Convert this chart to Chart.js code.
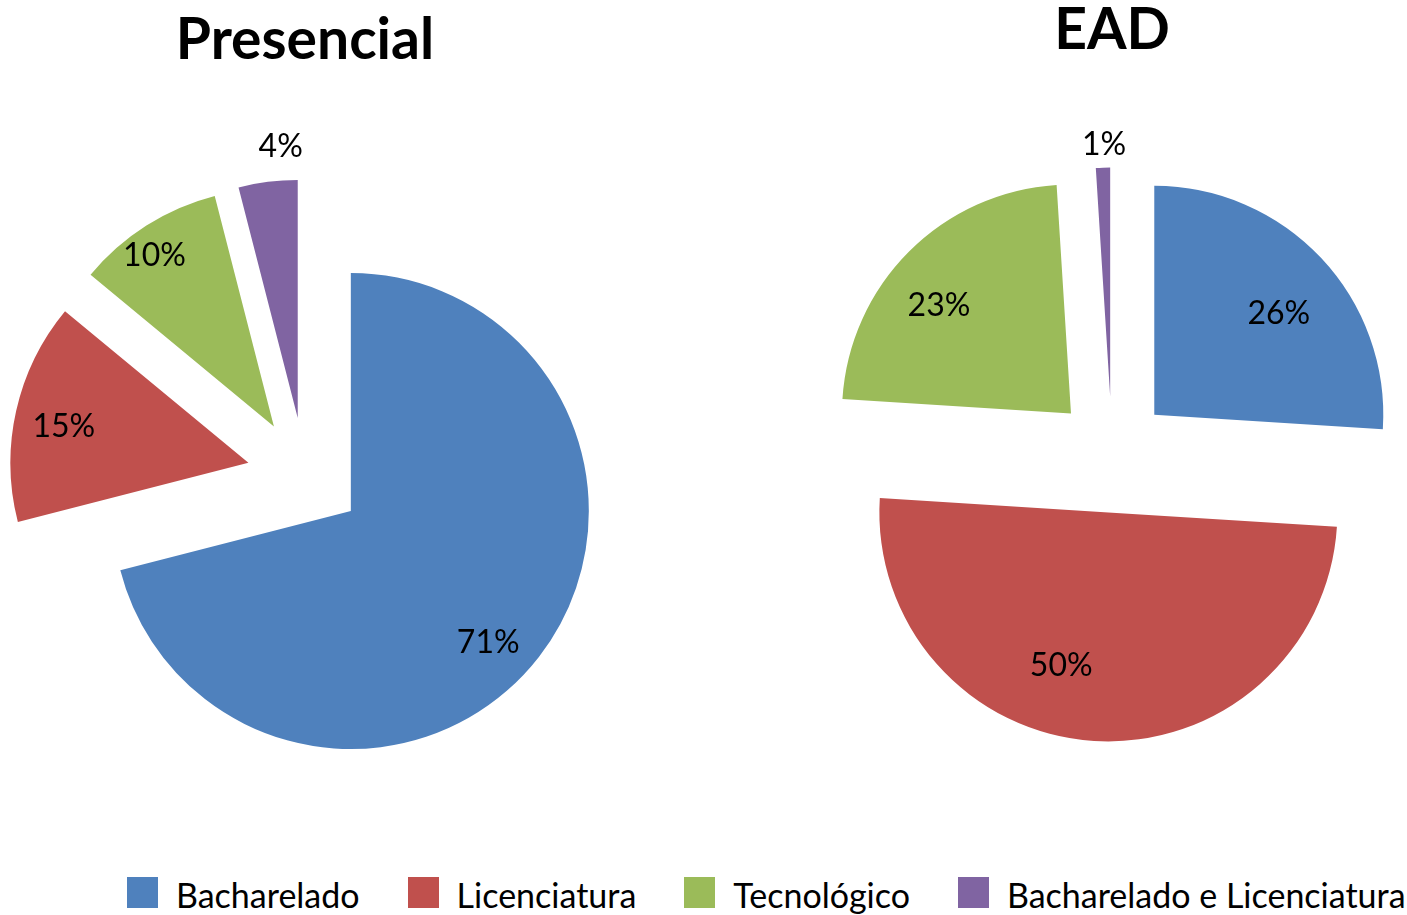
<!DOCTYPE html>
<html>
<head>
<meta charset="utf-8">
<script src="https://cdn.jsdelivr.net/npm/chart.js@4/dist/chart.umd.min.js"></script>
<style>
  html, body { margin: 0; padding: 0; background: #fff; overflow: hidden; }
  body { width: 1407px; height: 915px; position: relative; font-family: 'Lato', sans-serif; }
  canvas { position: absolute; }
  #presencial { left: 8px; top: 0; }
  #ead { left: 822px; top: 0; }
  #legend {
    position: absolute; left: 127px; top: 877px;
    display: flex; align-items: baseline; white-space: nowrap;
    font-size: 34px; line-height: 1; color: #000;
  }
  .item { display: flex; align-items: baseline; margin-right: 48px; }
  .box { display: inline-block; width: 31px; height: 31px; margin-right: 18px; }
</style>
</head>
<body>
<canvas id="presencial" width="594" height="872"></canvas>
<canvas id="ead" width="580" height="840"></canvas>
<div id="legend"></div>

<script>
// data (percent of each type)
const categories = ['Bacharelado', 'Licenciatura', 'Tecnológico', 'Bacharelado e Licenciatura'];
const presencialValues = [71, 15, 10, 4];
const eadValues = [26, 50, 23, 1];

const colors = ['#4F81BD', '#C0504D', '#9BBB59', '#8064A2'];

// where each percent label sits: fraction of radius + small angle nudge (deg)
const presencialLabelRadius = [0.80, 0.79, 0.875, 1.14];
const presencialLabelNudge = [6, -1.6, -2.6, 3.6];
const eadLabelRadius = [0.70, 0.70, 0.745, 1.10];
const eadLabelNudge = [4.2, 13.5, -5.7, 0.4];

Chart.defaults.font.family = 'Lato';

// draws every slice pulled out from the centre (Excel style exploded pie)
const explodePlugin = {
  id: 'explode',
  beforeDatasetDraw(chart, args, opts) {
    const ctx = chart.ctx;
    args.meta.data.forEach((arc) => {
      const mid = (arc.startAngle + arc.endAngle) / 2;
      ctx.save();
      ctx.translate(Math.cos(mid) * opts.distance, Math.sin(mid) * opts.distance);
      arc.draw(ctx);
      ctx.restore();
    });
    return false;
  }
};

// percent labels inside / next to the slices
const pctLabels = {
  id: 'pctLabels',
  afterDatasetsDraw(chart, args, opts) {
    const ctx = chart.ctx;
    const meta = chart.getDatasetMeta(0);
    const values = chart.data.datasets[0].data;
    const total = values.reduce((t, v) => t + v, 0);
    const dist = chart.options.plugins.explode.distance;
    ctx.save();
    ctx.font = '32px Lato';
    ctx.fillStyle = '#000';
    ctx.textAlign = 'center';
    ctx.textBaseline = 'middle';
    meta.data.forEach((arc, i) => {
      const mid = (arc.startAngle + arc.endAngle) / 2;
      const cx = arc.x + Math.cos(mid) * dist;
      const cy = arc.y + Math.sin(mid) * dist;
      const a = mid + opts.nudge[i] * Math.PI / 180;
      const r = arc.outerRadius * opts.radius[i];
      const text = Math.round(values[i] / total * 100) + '%';
      ctx.fillText(text, cx + Math.cos(a) * r, cy + Math.sin(a) * r);
    });
    ctx.restore();
  }
};

function makePie(id, title, values, radius, titlePad, labelRadius, labelNudge) {
  return new Chart(document.getElementById(id), {
    type: 'pie',
    data: {
      labels: categories,
      datasets: [{
        data: values,
        backgroundColor: colors,
        borderWidth: 0
      }]
    },
    options: {
      responsive: false,
      animation: false,
      radius: radius,
      layout: { padding: 0 },
      plugins: {
        legend: { display: false },
        tooltip: { enabled: false },
        title: {
          display: true,
          text: title,
          color: '#000',
          font: { size: 57, weight: 'bold', lineHeight: 1 },
          padding: titlePad
        },
        explode: { distance: 58 },
        pctLabels: { radius: labelRadius, nudge: labelNudge }
      }
    },
    plugins: [explodePlugin, pctLabels]
  });
}

makePie('presencial', 'Presencial', presencialValues, 238, { top: 12, bottom: 10 },
  presencialLabelRadius, presencialLabelNudge);
makePie('ead', 'EAD', eadValues, 229, { top: 2, bottom: 10 },
  eadLabelRadius, eadLabelNudge);

// shared legend at the bottom
const legend = document.getElementById('legend');
categories.forEach((name, i) => {
  const item = document.createElement('div');
  item.className = 'item';
  item.innerHTML = '<span class="box" style="background:' + colors[i] + '"></span><span>' + name + '</span>';
  legend.appendChild(item);
});
</script>
</body>
</html>
